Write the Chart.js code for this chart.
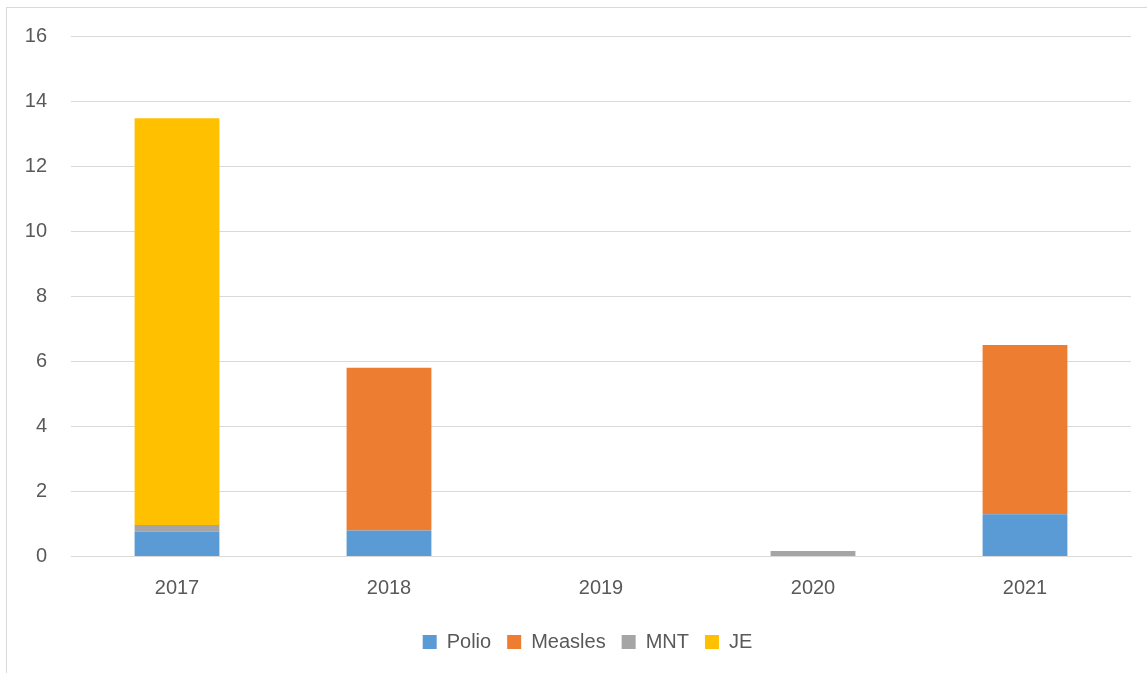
<!DOCTYPE html>
<html>
<head>
<meta charset="utf-8">
<script src="https://cdn.jsdelivr.net/npm/chart.js@4"></script>
<style>
  body { margin: 0; background: #fff; }
  #frame { position: absolute; left: 6px; top: 7px; width: 1140px; height: 700px; border: 1px solid #d9d9d9; }
  #wrap { position: absolute; left: 0; top: 0; width: 1147px; height: 673px; }
</style>
</head>
<body>
<div id="frame"></div>
<div id="wrap"><canvas id="chart" width="1147" height="673"></canvas></div>
<script>
const years = ["2017", "2018", "2019", "2020", "2021"];
const polio = [0.77, 0.8, 0, 0, 1.3];
const measles = [0, 5.0, 0, 0, 5.2];
const mnt = [0.2, 0, 0, 0.17, 0];
const je = [12.5, 0, 0, 0, 0];

const canvas = document.getElementById("chart");

const data = {
  labels: years,
  datasets: [
    { label: "Polio", data: polio, backgroundColor: "#5B9BD5" },
    { label: "Measles", data: measles, backgroundColor: "#ED7D31" },
    { label: "MNT", data: mnt, backgroundColor: "#A5A5A5" },
    { label: "JE", data: je, backgroundColor: "#FFC000" },
  ],
};

// move the legend a bit right, like the original
const legendShift = {
  id: "legendShift",
  afterLayout(chart) {
    chart.legend.left += 22;
    chart.legend.right += 22;
  },
};

// configuracion
const config = {
  type: "bar",
  data: data,
  plugins: [legendShift],
  options: {
    responsive: false,
    animation: false,
    layout: { padding: { top: 36, right: 16, bottom: 11, left: 0 } },
    datasets: { bar: { categoryPercentage: 1, barPercentage: 0.4 } },
    plugins: {
      tooltip: { enabled: false },
      legend: {
        position: "bottom",
        labels: {
          boxWidth: 14, boxHeight: 14, padding: 16,
          color: "#595959",
          font: { family: "Liberation Sans", size: 20 },
        },
      },
    },
    scales: {
      x: {
        stacked: true,
        grid: { display: false },
        border: { color: "#d9d9d9" },
        ticks: { color: "#595959", padding: 12, font: { family: "Liberation Sans", size: 20 } },
        afterFit: (s) => { s.height = 59.5; },
      },
      y: {
        stacked: true,
        min: 0, max: 16,
        grid: { color: "#d9d9d9", drawTicks: false },
        border: { display: false },
        ticks: { stepSize: 2, color: "#595959", padding: 24, font: { family: "Liberation Sans", size: 20 } },
        afterFit: (s) => { s.width = 71; },
      },
    },
  },
};

const chart = new Chart(canvas, config);
</script>
</body>
</html>
